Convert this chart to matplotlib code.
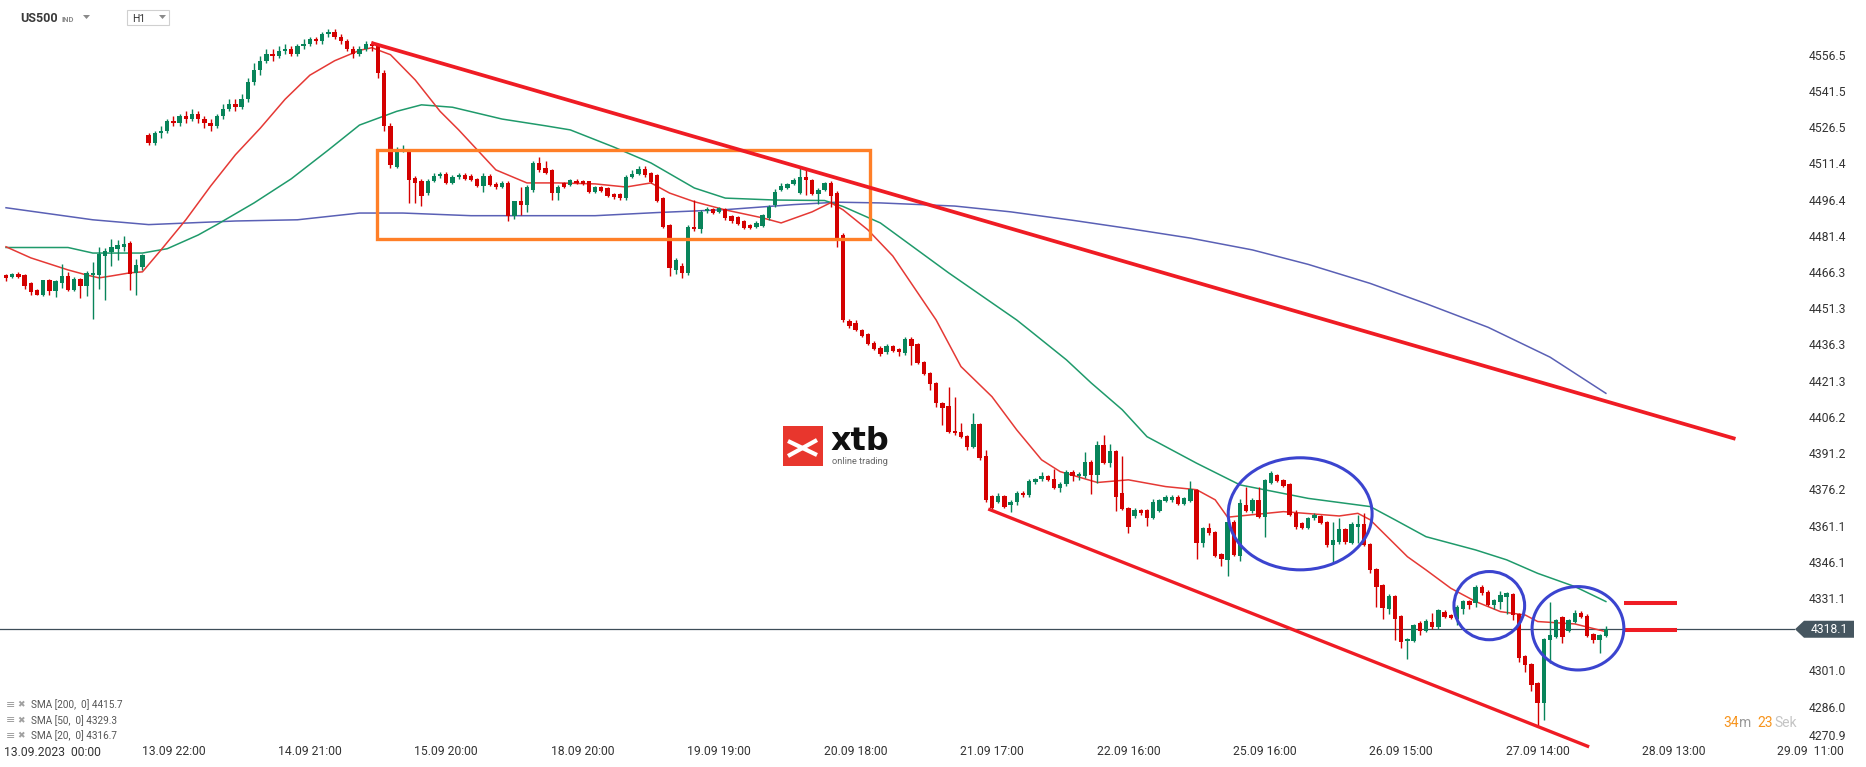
import matplotlib
matplotlib.use("Agg")
import matplotlib.pyplot as plt
from matplotlib.patches import Rectangle, Ellipse, Polygon
from matplotlib.lines import Line2D
import numpy as np

plt.rcParams['font.family'] = ['Roboto', 'DejaVu Sans']

# US500 H1 candles, 13.09 - 27.09.2023
opens = [
    4465.1, 4464.2, 4465.7, 4465.1, 4461.8, 4458.9, 4456.8, 4463.0, 4458.6, 4461.9,
    4464.7, 4458.9, 4463.5, 4460.7, 4464.9, 4465.1, 4473.1, 4474.5, 4475.9, 4476.9,
    4478.4, 4465.8, 4468.6, 4523, 4520, 4524, 4525, 4529, 4528, 4531,
    4530, 4532, 4530, 4528, 4527, 4531, 4534, 4536, 4535, 4538,
    4545, 4550, 4554, 4557, 4556, 4558, 4559, 4557, 4560, 4561,
    4563, 4562, 4565, 4566, 4564, 4562, 4559, 4557, 4559, 4561,
    4560, 4549, 4527, 4510.1, 4516.3, 4516.3, 4505.2, 4504.3, 4499.0, 4504.1,
    4506.2, 4507.2, 4503.4, 4505.6, 4506.6, 4506.0, 4505.0, 4502.2, 4506.0, 4502.9,
    4501.8, 4503.4, 4489.6, 4495.6, 4494.2, 4500.4, 4511.5, 4509.4, 4508.7, 4499.3,
    4503.2, 4502.5, 4504.3, 4503.9, 4503.9, 4499.7, 4501.5, 4501.0, 4498.7, 4498.5,
    4496.9, 4505.9, 4506.9, 4509.1, 4507.3, 4506.4, 4496.9, 4485.9, 4467.0, 4469.0,
    4466.0, 4484.9, 4484.1, 4491.5, 4492.5, 4491.4, 4492.4, 4489.6, 4489.1, 4487.3,
    4485.9, 4485.2, 4485.5, 4488.6, 4494.1, 4500.4, 4501.3, 4503.0, 4499.3, 4505.9,
    4504.5, 4498.6, 4500.4, 4503.4, 4499.0, 4481.6, 4446.0, 4445.1, 4442.3, 4440.6,
    4437.0, 4435.0, 4433.0, 4435.7, 4434.4, 4432.6, 4438.6, 4436.4, 4428.9, 4424.3,
    4420.2, 4411.9, 4410.8, 4400.4, 4400.1, 4398.3, 4393.9, 4403.3, 4390.0, 4373.4,
    4370.8, 4373.4, 4369.7, 4371.1, 4374.8, 4373.6, 4379.0, 4380.3, 4381.7, 4380.5,
    4376.6, 4378.3, 4383.5, 4381.5, 4381.5, 4387.7, 4381.9, 4394.6, 4387.0, 4392.1,
    4374.5, 4368.3, 4364.9, 4367.6, 4367.6, 4364.4, 4367.2, 4371.3, 4371.8, 4373.1,
    4370.1, 4371.3, 4375.9, 4353.8, 4360.0, 4358.3, 4349.2, 4346.9, 4362.8, 4348.5,
    4369.7, 4367.3, 4371.8, 4364.8, 4378.9, 4382.1, 4380.1, 4378.4, 4366.5, 4362.1,
    4360.3, 4364.1, 4365.1, 4362.5, 4353.1, 4354.1, 4359.6, 4353.8, 4360.7, 4361.8,
    4353.5, 4343.0, 4336.5, 4326.4, 4331.9, 4323.6, 4313.4, 4313.4, 4320.9, 4317.5,
    4321.3, 4318.9, 4325.4, 4324.0, 4322.4, 4326.4, 4329.8, 4328.9, 4335.8, 4333.7,
    4328.2, 4329.2, 4331.6, 4332.8, 4324.5, 4307.0, 4303.7, 4295.7, 4287.7, 4313.7,
    4315.0, 4323.3, 4317.5, 4321.3, 4325.0, 4323.8, 4316.0, 4313.7, 4315.5]
highs = [
    4465.3, 4465.8, 4466.5, 4465.4, 4462.2, 4459.2, 4463.2, 4463.5, 4463.0, 4469.7,
    4466.5, 4464.2, 4464.0, 4466.8, 4470.4, 4476.6, 4476.2, 4480.1, 4479.6, 4481.3,
    4479.2, 4471.8, 4474.0, 4524, 4525, 4527, 4530, 4531, 4532, 4533,
    4534, 4533, 4531, 4530, 4532, 4536, 4538, 4538, 4540, 4547,
    4553, 4556, 4559, 4559, 4560, 4561, 4560, 4561, 4563, 4564,
    4564, 4566, 4567, 4567, 4565, 4563, 4560, 4560, 4562, 4562,
    4561, 4550, 4528, 4518.4, 4519.1, 4517.0, 4506.0, 4505.0, 4505.0, 4507.3,
    4508.0, 4508.0, 4506.5, 4507.3, 4507.3, 4507.0, 4505.5, 4507.6, 4506.8, 4503.5,
    4504.0, 4504.0, 4496.0, 4501.8, 4502.5, 4512.6, 4514.2, 4512.2, 4509.2, 4502.5,
    4503.8, 4505.0, 4505.0, 4504.5, 4504.3, 4502.0, 4502.0, 4501.5, 4499.2, 4499.0,
    4506.6, 4508.8, 4510.3, 4510.3, 4507.8, 4506.9, 4497.4, 4486.4, 4472.3, 4470.0,
    4486.0, 4496.3, 4492.0, 4493.2, 4493.0, 4493.5, 4493.0, 4490.1, 4489.6, 4487.8,
    4486.4, 4487.5, 4490.5, 4494.0, 4500.6, 4503.3, 4503.2, 4505.3, 4509.4, 4509.0,
    4505.0, 4501.0, 4503.7, 4504.0, 4499.8, 4482.5, 4447.0, 4446.4, 4442.8, 4441.0,
    4437.5, 4435.5, 4436.3, 4436.2, 4435.0, 4439.3, 4439.2, 4437.0, 4429.4, 4424.8,
    4420.7, 4412.4, 4418.5, 4414.6, 4403.5, 4398.8, 4407.7, 4403.8, 4392.4, 4374.0,
    4374.5, 4374.0, 4371.6, 4375.3, 4375.3, 4380.3, 4381.0, 4383.5, 4382.2, 4384.5,
    4379.0, 4384.0, 4384.3, 4383.2, 4391.6, 4388.5, 4396.2, 4398.6, 4395.0, 4392.6,
    4390.0, 4368.8, 4368.5, 4368.0, 4368.0, 4372.0, 4372.3, 4373.6, 4373.6, 4373.6,
    4373.0, 4379.5, 4376.4, 4360.5, 4362.2, 4358.8, 4349.7, 4363.3, 4363.3, 4372.0,
    4377.3, 4372.5, 4377.3, 4380.6, 4383.6, 4382.6, 4380.6, 4378.9, 4367.5, 4362.6,
    4364.6, 4366.3, 4365.6, 4363.0, 4362.8, 4364.2, 4360.1, 4362.5, 4365.3, 4366.5,
    4354.0, 4343.5, 4337.0, 4332.6, 4332.4, 4324.1, 4314.5, 4320.4, 4321.4, 4322.2,
    4324.7, 4326.6, 4325.9, 4324.5, 4328.0, 4330.3, 4330.3, 4336.3, 4336.3, 4334.2,
    4330.8, 4334.0, 4333.5, 4333.3, 4325.0, 4307.5, 4304.2, 4296.2, 4314.4, 4329.6,
    4322.5, 4323.8, 4322.5, 4326.1, 4325.5, 4324.3, 4316.5, 4316.2, 4319.5]
lows = [
    4462.8, 4463.8, 4463.9, 4459.4, 4457.0, 4456.7, 4456.5, 4457.0, 4456.1, 4459.9,
    4458.6, 4458.6, 4455.7, 4456.4, 4447.0, 4459.3, 4454.7, 4469.0, 4471.3, 4475.1,
    4458.9, 4457.0, 4467.2, 4519, 4519, 4522, 4524, 4527, 4527, 4528,
    4529, 4528, 4526, 4525, 4526, 4530, 4533, 4533, 4534, 4537,
    4544, 4548, 4553, 4554, 4555, 4557, 4556, 4556, 4559, 4560,
    4561, 4561, 4564, 4563, 4561, 4558, 4555, 4556, 4558, 4558,
    4547, 4525, 4509.5, 4509.3, 4516.0, 4494.9, 4494.9, 4493.8, 4498.3, 4503.5,
    4505.5, 4503.0, 4503.0, 4505.0, 4504.5, 4504.0, 4501.5, 4499.7, 4502.0, 4500.7,
    4501.3, 4487.3, 4488.2, 4490.0, 4491.4, 4499.5, 4508.0, 4506.8, 4496.3, 4496.3,
    4501.0, 4502.0, 4502.8, 4502.4, 4499.2, 4499.2, 4499.5, 4497.5, 4496.7, 4496.2,
    4496.2, 4505.4, 4506.4, 4505.9, 4503.2, 4495.5, 4484.7, 4464.6, 4465.5, 4464.0,
    4465.0, 4483.5, 4482.4, 4491.0, 4490.5, 4491.0, 4488.1, 4486.8, 4485.8, 4484.3,
    4484.0, 4484.7, 4485.0, 4488.1, 4493.5, 4499.9, 4500.8, 4502.5, 4498.8, 4498.3,
    4498.1, 4494.6, 4499.9, 4493.5, 4476.9, 4445.5, 4443.2, 4441.7, 4439.4, 4436.0,
    4433.8, 4431.5, 4432.5, 4433.2, 4431.5, 4432.1, 4427.8, 4428.0, 4423.5, 4417.5,
    4410.5, 4403.0, 4399.6, 4398.9, 4397.3, 4392.6, 4393.4, 4388.5, 4370.7, 4368.0,
    4370.3, 4368.5, 4366.7, 4369.5, 4373.1, 4373.1, 4378.5, 4379.5, 4379.6, 4376.4,
    4375.0, 4377.5, 4379.5, 4380.0, 4381.0, 4374.3, 4378.6, 4386.5, 4385.5, 4367.0,
    4367.4, 4357.9, 4364.4, 4365.7, 4360.8, 4363.9, 4366.7, 4370.8, 4371.0, 4369.5,
    4369.6, 4370.8, 4347.2, 4352.4, 4357.4, 4348.0, 4344.2, 4340.4, 4348.4, 4346.5,
    4366.8, 4366.5, 4364.3, 4356.5, 4378.4, 4379.1, 4377.2, 4365.0, 4359.5, 4359.8,
    4359.8, 4363.6, 4361.6, 4352.4, 4345.5, 4353.6, 4353.6, 4353.3, 4353.8, 4352.6,
    4341.3, 4327.5, 4322.3, 4324.5, 4313.5, 4310.2, 4305.6, 4312.9, 4315.7, 4317.0,
    4318.4, 4318.4, 4322.6, 4322.2, 4319.9, 4324.3, 4326.4, 4327.5, 4332.5, 4327.7,
    4326.4, 4326.4, 4324.5, 4322.0, 4304.7, 4300.5, 4292.5, 4277.7, 4280.5, 4304.0,
    4314.5, 4312.2, 4317.0, 4320.8, 4322.8, 4315.0, 4312.2, 4308.1, 4315.0]
closes = [
    4464.0, 4465.5, 4464.4, 4460.7, 4457.9, 4457.0, 4463.0, 4458.6, 4462.6, 4464.7,
    4458.9, 4463.5, 4460.7, 4466.0, 4466.1, 4473.8, 4475.1, 4476.6, 4477.6, 4478.0,
    4465.3, 4469.3, 4473.4, 4520, 4524, 4525, 4529, 4528, 4531, 4530,
    4532, 4530, 4528, 4527, 4531, 4534, 4536, 4535, 4538, 4545,
    4550, 4554, 4557, 4556, 4558, 4559, 4557, 4560, 4561, 4563,
    4562, 4565, 4566, 4564, 4562, 4559, 4557, 4559, 4561, 4560,
    4549, 4527, 4510.8, 4516.3, 4516.9, 4504.5, 4503.2, 4498.0, 4504.1, 4506.2,
    4507.2, 4503.4, 4505.7, 4506.6, 4505.0, 4504.5, 4502.2, 4506.0, 4502.5, 4501.8,
    4503.4, 4489.6, 4495.6, 4494.2, 4501.8, 4511.5, 4508.7, 4507.3, 4499.3, 4501.8,
    4501.8, 4504.5, 4503.2, 4502.9, 4499.7, 4501.5, 4500.0, 4498.0, 4497.3, 4497.0,
    4505.9, 4506.9, 4508.9, 4506.4, 4503.7, 4496.0, 4485.2, 4468.0, 4471.5, 4466.0,
    4485.0, 4484.1, 4491.4, 4492.5, 4491.0, 4492.8, 4488.6, 4487.3, 4486.3, 4484.8,
    4484.5, 4486.6, 4490.0, 4493.5, 4499.6, 4502.0, 4502.7, 4504.7, 4505.9, 4504.5,
    4498.6, 4500.4, 4503.2, 4498.0, 4480.4, 4446.5, 4443.9, 4442.3, 4439.9, 4436.4,
    4434.3, 4432.3, 4435.8, 4433.7, 4433.0, 4438.6, 4435.8, 4428.5, 4424.0, 4419.8,
    4411.9, 4409.8, 4400.1, 4399.4, 4397.8, 4393.9, 4403.3, 4389.0, 4371.8, 4368.6,
    4373.4, 4369.0, 4371.1, 4374.8, 4373.6, 4379.8, 4380.5, 4381.7, 4380.1, 4376.9,
    4378.3, 4383.5, 4381.5, 4382.6, 4387.7, 4381.9, 4394.6, 4387.0, 4392.1, 4373.1,
    4367.9, 4360.7, 4367.6, 4366.2, 4364.4, 4370.7, 4371.8, 4373.1, 4373.1, 4370.0,
    4372.4, 4376.2, 4353.8, 4360.0, 4357.9, 4348.5, 4347.2, 4362.8, 4348.9, 4370.3,
    4367.3, 4371.8, 4364.8, 4380.1, 4383.1, 4379.6, 4377.7, 4365.5, 4360.7, 4360.3,
    4364.1, 4365.5, 4362.1, 4353.1, 4355.2, 4359.6, 4354.1, 4361.8, 4361.8, 4353.1,
    4342.7, 4335.5, 4326.8, 4331.9, 4322.2, 4313.0, 4313.9, 4319.9, 4317.5, 4321.7,
    4318.9, 4326.1, 4323.1, 4322.7, 4327.5, 4329.8, 4328.2, 4335.8, 4333.0, 4328.2,
    4330.3, 4332.3, 4333.0, 4324.0, 4306.1, 4303.3, 4295.0, 4287.7, 4313.9, 4315.7,
    4322.0, 4315.0, 4322.0, 4324.7, 4323.3, 4315.5, 4313.7, 4315.7, 4318.1]

# moving averages as drawn (candle index, value)
sma200_x = [0, 14, 23, 37, 47, 57, 64, 75, 95, 105, 116, 127, 134, 141, 153, 162, 172,
            181, 191, 201, 210, 220, 229, 239, 249, 258]
sma200_y = [4493.0, 4488.0, 4486.0, 4487.5, 4488.0, 4490.8, 4490.8, 4489.7, 4489.7, 4491.0,
            4492.2, 4494.3, 4495.3, 4495.0, 4493.7, 4491.3, 4487.8, 4484.4, 4480.4, 4475.5,
            4469.5, 4461.6, 4453.2, 4443.4, 4431.0, 4416.0]
sma50_x = [0, 10, 14, 22, 26, 31, 34, 40, 46, 52, 57, 63, 67, 72, 80, 87, 91, 98, 104, 111,
           116, 124, 132, 135, 141, 152, 163, 165, 171, 175, 180, 184, 192, 199, 210, 220,
           224, 229, 237, 242, 247, 253, 258]
sma50_y = [4476.5, 4476.5, 4474.2, 4474.2, 4476.0, 4481.7, 4486.0, 4495.0, 4505.0, 4517.0,
           4527.3, 4533.0, 4535.7, 4534.7, 4529.8, 4527.0, 4525.3, 4518.2, 4511.6, 4501.2,
           4497.0, 4496.2, 4496.0, 4493.5, 4486.7, 4466.0, 4446.4, 4442.3, 4429.9, 4420.3,
           4409.2, 4398.0, 4387.0, 4378.0, 4372.4, 4369.0, 4363.5, 4356.5, 4351.0, 4346.9,
           4341.3, 4335.8, 4329.6]
sma20_x = [0, 4, 10, 13, 15, 17, 20, 22, 25, 29, 33, 37, 41, 45, 49, 53, 57, 59, 62, 66, 70,
           73, 79, 84, 89, 95, 100, 104, 107, 111, 116, 122, 125, 130, 133, 135, 139, 143,
           150, 154, 159, 163, 167, 170, 176, 181, 187, 192, 195, 197, 206, 215, 218, 220,
           226, 229, 233, 237, 241, 245, 247, 253, 258]
sma20_y = [4476.8, 4472.2, 4467.2, 4465.1, 4463.9, 4464.7, 4466.0, 4466.4, 4475.5, 4488.0,
           4502.0, 4515.0, 4526.0, 4538.0, 4548.0, 4554.0, 4558.3, 4559.4, 4556.5, 4546.0,
           4533.0, 4525.3, 4508.7, 4503.3, 4503.3, 4502.9, 4501.6, 4503.3, 4499.1, 4495.5,
           4492.1, 4488.8, 4486.7, 4491.3, 4495.1, 4492.1, 4483.8, 4473.0, 4446.4, 4427.1,
           4414.6, 4400.8, 4388.4, 4383.5, 4379.0, 4380.1, 4377.3, 4376.0, 4371.8, 4364.6,
           4366.9, 4365.1, 4366.2, 4363.5, 4348.2, 4342.7, 4335.1, 4329.6, 4325.4, 4324.0,
           4321.3, 4320.3, 4317.1]
sma_legend = ["SMA [200,  0] 4415.7", "SMA [50,  0] 4329.3", "SMA [20,  0] 4316.7"]

# axis labels
y_ticks = [4556.5, 4541.5, 4526.5, 4511.4, 4496.4, 4481.4, 4466.3, 4451.3, 4436.3, 4421.3,
           4406.2, 4391.2, 4376.2, 4361.1, 4346.1, 4331.1, 4301.0, 4286.0, 4270.9]
x_tick_idx = [27, 49, 71, 93, 115, 137, 159, 181, 203, 225, 247, 269, 291]
x_tick_labels = ["13.09 22:00", "14.09 21:00", "15.09 20:00", "18.09 20:00", "19.09 19:00",
                 "20.09 18:00", "21.09 17:00", "22.09 16:00", "25.09 16:00", "26.09 15:00",
                 "27.09 14:00", "28.09 13:00", "29.09  11:00"]

# drawn annotations (candle index, price)
range_box_x = [59.8, 139.4]
range_box_y = [4480.1, 4517.0]
upper_line_x = [58.9, 278.9]
upper_line_y = [4561.4, 4397.1]
lower_line_x = [158.4, 255.3]
lower_line_y = [4368.0, 4269.3]
level_x = [261, 269.4]
level_y = [4328.9, 4317.8]
circle_cx = [208.7, 239.2, 253.5]
circle_cy = [4366.0, 4327.9, 4318.5]
circle_w = [23.2, 11.4, 14.8]
circle_h = [46.5, 28.3, 34.6]

W, H = 1866, 767
fig = plt.figure(figsize=(W / 100, H / 100), dpi=100)
fig.patch.set_facecolor('white')
ax = fig.add_axes([0, 24 / H, 1795 / W, 743 / H])
ax.set_xlim(-0.97, 288.5)
ax.set_ylim(4270.9, 4579.2)
for s in ax.spines.values():
    s.set_visible(False)


def fx(x):
    return x / W


def fy(y):
    return 1 - y / H


# moving averages
ax.plot(sma200_x, sma200_y, color='#5a60b5', lw=1.1, zorder=2)
ax.plot(sma50_x, sma50_y, color='#1f9a6b', lw=1.1, zorder=2)
ax.plot(sma20_x, sma20_y, color='#e53935', lw=1.1, zorder=2)

# current price line
ax.axhline(closes[-1], color='#3d4d58', lw=0.9, zorder=1)

# candles
o = np.array(opens)
hi = np.array(highs)
lo = np.array(lows)
c = np.array(closes)
x = np.arange(len(o))
cols = np.where(c >= o, '#08845a', '#d40000')
ax.vlines(x, lo, hi, colors=cols, lw=1, zorder=3)
ax.bar(x, np.maximum(np.abs(c - o), 0.35), bottom=np.minimum(o, c), width=0.7,
       color=cols, lw=0, zorder=3)

# annotations
ax.add_patch(Rectangle((range_box_x[0], range_box_y[0]), range_box_x[1] - range_box_x[0],
                       range_box_y[1] - range_box_y[0], fill=False, ec='#ff7f27', lw=2.4,
                       zorder=5))
ax.plot(upper_line_x, upper_line_y, color='#ef1c24', lw=2.7, zorder=5, solid_capstyle='butt')
ax.plot(lower_line_x, lower_line_y, color='#ef1c24', lw=2.4, zorder=5, clip_on=False,
        solid_capstyle='butt')
for lv in level_y:
    ax.plot(level_x, [lv, lv], color='#ef1c24', lw=2.9, zorder=5, solid_capstyle='butt')
for cx, cy, w, h in zip(circle_cx, circle_cy, circle_w, circle_h):
    ax.add_patch(Ellipse((cx, cy), w, h, fill=False, ec='#3b44cf', lw=2.2, zorder=6))

# y axis on the right
ax.set_xticks([])
ax.yaxis.tick_right()
ax.set_yticks(y_ticks)
ax.set_yticklabels([f'{v:.1f}' for v in y_ticks])
ax.tick_params(axis='y', length=0, pad=10, labelsize=8.7, labelcolor='#333333')
ax.get_yticklabels()[-1].set_va('bottom')

# x labels
xt = ax.get_xaxis_transform()
for xi, lab in zip(x_tick_idx, x_tick_labels):
    ax.text(xi, -0.012, lab, transform=xt, ha='center', va='center', fontsize=8.7,
            color='#333333', clip_on=False)
fig.text(fx(4), fy(752), "13.09.2023  00:00", ha='left', va='center', fontsize=8.7,
         color='#333333')

# price tag
py = ax.transData.transform((0, closes[-1]))[1] / H
ph = 8.5 / H
fig.add_artist(Polygon([(fx(1795), py), (fx(1804), py + ph), (fx(1854), py + ph),
                        (fx(1854), py - ph), (fx(1804), py - ph)], closed=True,
                       transform=fig.transFigure, fc='#465660', ec='none', zorder=10))
fig.text(fx(1829), py, f'{closes[-1]:.1f}', ha='center', va='center', fontsize=8.7,
         color='white', zorder=11)

# header
fig.text(fx(20), fy(19), "US500", fontsize=9, fontweight='bold', color='#3a3a3a',
         va='center')
fig.text(fx(62), fy(19), "IND", fontsize=5.5, fontweight='bold', color='#8a8a8a',
         va='center')
fig.add_artist(Polygon([(fx(83), fy(15)), (fx(90), fy(15)), (fx(86.5), fy(19))],
                       transform=fig.transFigure, fc='#8a8a8a', ec='none'))
fig.add_artist(Rectangle((fx(127), fy(25)), fx(42), 15 / H, transform=fig.transFigure,
                         fill=False, ec='#d0d0d0', lw=0.8))
fig.text(fx(132), fy(19), "H1", fontsize=7.5, color='#333333', va='center')
fig.add_artist(Polygon([(fx(159), fy(15)), (fx(166), fy(15)), (fx(162.5), fy(19))],
                       transform=fig.transFigure, fc='#8a8a8a', ec='none'))

# xtb logo
fig.add_artist(Rectangle((fx(783), fy(466)), fx(40), 40 / H, transform=fig.transFigure,
                         fc='#e8362d', ec='none', zorder=4))
for (x0, y0), (x1, y1) in [((788, 441), (817, 455)), ((788, 456), (817, 440))]:
    fig.add_artist(Line2D([fx(x0), fx(x1)], [fy(y0), fy(y1)], transform=fig.transFigure,
                          color='white', lw=3, solid_capstyle='butt', zorder=5))
fig.text(fx(831), fy(441), "xtb", fontsize=23, fontweight='bold', color='#111111',
         va='center', family='DejaVu Sans')
fig.text(fx(832), fy(461), "online trading", fontsize=6.7, color='#666666', va='center')

# indicator legend
for k, lab in enumerate(sma_legend):
    yy = fy(705 + 15.5 * k)
    fig.text(fx(6), yy, "\u2261", fontsize=8, color='#9a9a9a', va='center',
             family=['DejaVu Sans'])
    fig.text(fx(17), yy, "\u2716", fontsize=6.5, color='#a0a0a0', va='center',
             family=['DejaVu Sans'])
    fig.text(fx(31), yy, lab, fontsize=7.2, color='#555555', va='center')

# countdown
fig.text(fx(1723), fy(723), "34", fontsize=10, color='#f7941d', va='center')
fig.text(fx(1739), fy(723), "m", fontsize=10, color='#9a9a9a', va='center')
fig.text(fx(1757), fy(723), "23", fontsize=10, color='#f7941d', va='center')
fig.text(fx(1774), fy(723), "Sek", fontsize=10, color='#c4c4c4', va='center')

fig.savefig("out.png", dpi=100, facecolor='white')
